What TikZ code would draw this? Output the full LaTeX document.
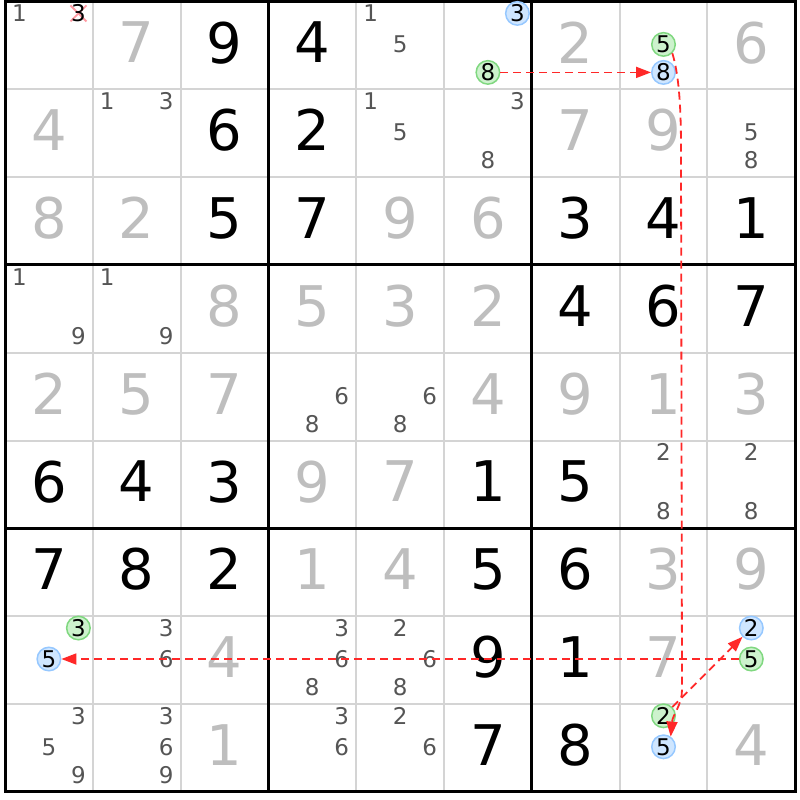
\documentclass[tikz,border=0pt]{standalone}
\usepackage{fontspec}
\setmainfont{DejaVu Sans}
\usetikzlibrary{arrows.meta,calc}
\definecolor{gridgray}{HTML}{D4D4D4}
\definecolor{solvgray}{HTML}{BEBEBE}
\definecolor{candgray}{HTML}{555555}
\definecolor{bluefill}{HTML}{CFE6FF}
\definecolor{blueedge}{HTML}{96C8FF}
\definecolor{greenfill}{HTML}{CDF2CD}
\definecolor{greenedge}{HTML}{80D880}
\definecolor{chainred}{HTML}{FF2828}
\definecolor{xpink}{HTML}{FF9AA2}
\newcommand\Gv[3]{\node[given] (d#1#2) at ({5+87.8*(#2+0.5)},{1.5+87.8*(#1+0.5)-3}) {#3};}
\newcommand\Sv[3]{\node[solved] (d#1#2) at ({5+87.8*(#2+0.5)},{1.5+87.8*(#1+0.5)-3}) {#3};}
\newcommand\Cd[4][candtxt]{%
  \pgfmathsetmacro\cdx{5+87.8*(#3+0.5)+(mod(#4-1,3)-1)*29.5}%
  \pgfmathtruncatemacro\cdm{(#4-1)/3}%
  \pgfmathsetmacro\cdy{1.5+87.8*(#2+0.5)+(\cdm==0?-32:(\cdm==1?-1:27))}%
  \node[#1] (c#2#3#4) at (\cdx,\cdy) {#4};}
\begin{document}
\begin{tikzpicture}[x=1pt,y=-1pt,
  big/.style={inner sep=0pt,text depth=0pt,font=\fontsize{56}{56}\selectfont},
  given/.style={big,text=black},
  solved/.style={big,text=solvgray},
  candtxt/.style={inner sep=0pt,text depth=0pt,font=\fontsize{23}{23}\selectfont,text=candgray},
  bluec/.style={candtxt,text=black,circle,minimum size=23.5pt,draw=blueedge,fill=bluefill,line width=1.5pt},
  greenc/.style={candtxt,text=black,circle,minimum size=23.5pt,draw=greenedge,fill=greenfill,line width=1.5pt},
  chain/.style={draw=chainred,line width=1.8pt,dash pattern=on 8pt off 5pt,-{Triangle[length=15pt,width=11pt]}},
  thinline/.style={draw=gridgray,line width=2pt},
  thickline/.style={draw=black,line width=3pt}]
\path[use as bounding box] (0,0) rectangle (800,800);
\fill[white] (0,0) rectangle (800,800);
% grid
\foreach \i in {1,2,4,5,7,8}{
  \draw[thinline] ({5+87.8*\i},1.5) -- ({5+87.8*\i},791.7);
  \draw[thinline] (5,{1.5+87.8*\i}) -- (795.2,{1.5+87.8*\i});
}
\foreach \i in {3,6}{
  \draw[thickline] ({5+87.8*\i},1.5) -- ({5+87.8*\i},791.7);
  \draw[thickline] (5,{1.5+87.8*\i}) -- (795.2,{1.5+87.8*\i});
}
\draw[thickline] (5,1.5) rectangle (795.2,791.7);
% givens
\Gv{0}{2}{9}\Gv{0}{3}{4}
\Gv{1}{2}{6}\Gv{1}{3}{2}
\Gv{2}{2}{5}\Gv{2}{3}{7}\Gv{2}{6}{3}\Gv{2}{7}{4}\Gv{2}{8}{1}
\Gv{3}{6}{4}\Gv{3}{7}{6}\Gv{3}{8}{7}
\Gv{5}{0}{6}\Gv{5}{1}{4}\Gv{5}{2}{3}\Gv{5}{5}{1}\Gv{5}{6}{5}
\Gv{6}{0}{7}\Gv{6}{1}{8}\Gv{6}{2}{2}\Gv{6}{5}{5}\Gv{6}{6}{6}
\Gv{7}{5}{9}\Gv{7}{6}{1}
\Gv{8}{5}{7}\Gv{8}{6}{8}
% solved
\Sv{0}{1}{7}\Sv{0}{6}{2}\Sv{0}{8}{6}
\Sv{1}{0}{4}\Sv{1}{6}{7}\Sv{1}{7}{9}
\Sv{2}{0}{8}\Sv{2}{1}{2}\Sv{2}{4}{9}\Sv{2}{5}{6}
\Sv{3}{2}{8}\Sv{3}{3}{5}\Sv{3}{4}{3}\Sv{3}{5}{2}
\Sv{4}{0}{2}\Sv{4}{1}{5}\Sv{4}{2}{7}\Sv{4}{5}{4}\Sv{4}{6}{9}\Sv{4}{7}{1}\Sv{4}{8}{3}
\Sv{5}{3}{9}\Sv{5}{4}{7}
\Sv{6}{3}{1}\Sv{6}{4}{4}\Sv{6}{7}{3}\Sv{6}{8}{9}
\Sv{7}{2}{4}\Sv{7}{7}{7}
\Sv{8}{2}{1}\Sv{8}{8}{4}
% candidates
\Cd{0}{0}{1}
% crossed-out candidate mark (drawn under the digit)
\coordinate (xc) at ($(c001)+(59,0)$);
\draw[xpink,line width=1.8pt] ($(xc)+(-8,-8)$) -- ($(xc)+(8,8)$);
\draw[xpink,line width=1.8pt] ($(xc)+(-8,8)$) -- ($(xc)+(8,-8)$);
\Cd[candtxt,text=black]{0}{0}{3}
\Cd{0}{4}{1}\Cd{0}{4}{5}
\Cd[bluec]{0}{5}{3}\Cd[greenc]{0}{5}{8}
\Cd[greenc]{0}{7}{5}\Cd[bluec]{0}{7}{8}
\Cd{1}{1}{1}\Cd{1}{1}{3}
\Cd{1}{4}{1}\Cd{1}{4}{5}
\Cd{1}{5}{3}\Cd{1}{5}{8}
\Cd{1}{8}{5}\Cd{1}{8}{8}
\Cd{3}{0}{1}\Cd{3}{0}{9}
\Cd{3}{1}{1}\Cd{3}{1}{9}
\Cd{4}{3}{6}\Cd{4}{3}{8}
\Cd{4}{4}{6}\Cd{4}{4}{8}
\Cd{5}{7}{2}\Cd{5}{7}{8}
\Cd{5}{8}{2}\Cd{5}{8}{8}
\Cd[greenc]{7}{0}{3}\Cd[bluec]{7}{0}{5}
\Cd{7}{1}{3}\Cd{7}{1}{6}
\Cd{7}{3}{3}\Cd{7}{3}{6}\Cd{7}{3}{8}
\Cd{7}{4}{2}\Cd{7}{4}{6}\Cd{7}{4}{8}
\Cd[bluec]{7}{8}{2}\Cd[greenc]{7}{8}{5}
\Cd{8}{0}{3}\Cd{8}{0}{5}\Cd{8}{0}{9}
\Cd{8}{1}{3}\Cd{8}{1}{6}\Cd{8}{1}{9}
\Cd{8}{3}{3}\Cd{8}{3}{6}
\Cd{8}{4}{2}\Cd{8}{4}{6}
\Cd[greenc]{8}{7}{2}\Cd[bluec]{8}{7}{5}
% chain
\coordinate (w1) at (681,150);
\coordinate (w2) at (682,690);
\draw[chain] (c058) -- (c078);
\draw[chain] (c075.-45) .. controls ($(c075.-45)+(7,23)$) and ($(w1)+(0,-40)$) .. (w1)
  -- (w2) .. controls ($(w2)+(0,15)$) and ($(c875.55)+(2,-22)$) .. (c875.55);
\draw[chain] (c872) -- (c782);
\draw[chain] (c785) -- (c705);
\end{tikzpicture}
\end{document}
